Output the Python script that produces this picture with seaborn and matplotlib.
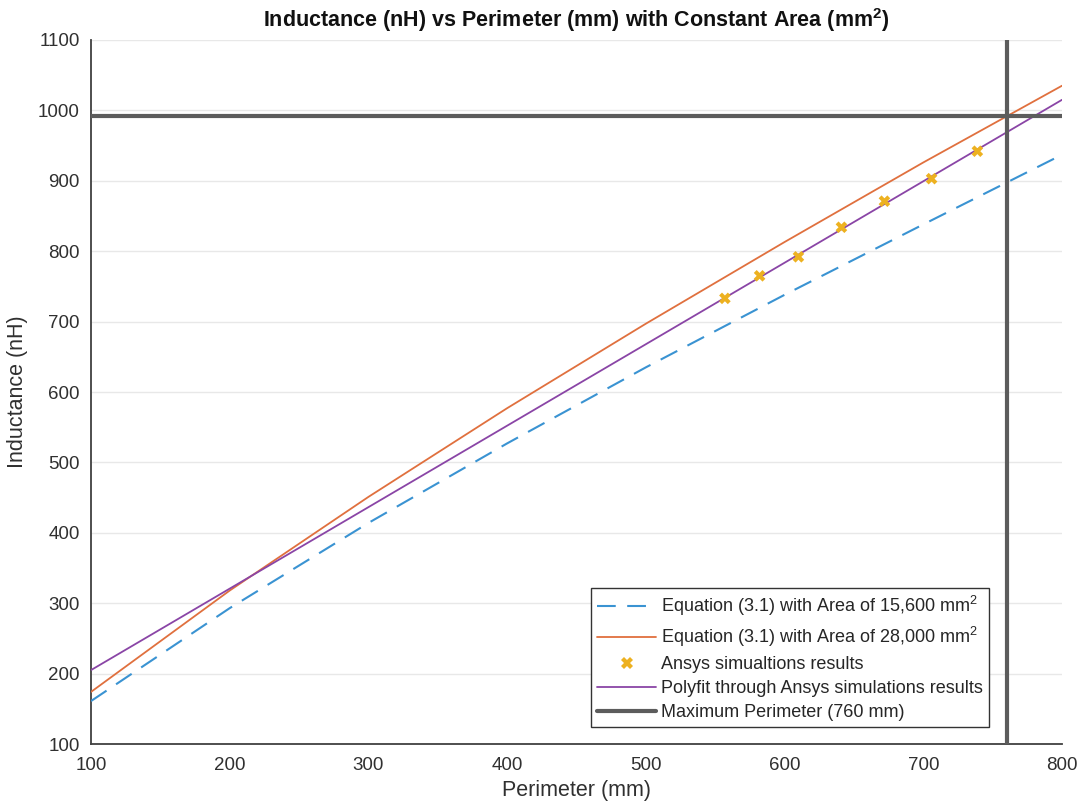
import matplotlib
matplotlib.use("Agg")
import matplotlib.pyplot as plt
import seaborn as sns
import pandas as pd
from matplotlib.lines import Line2D

# ---- data ----
perimeter_grid = [100, 200, 300, 400, 500, 600, 700, 800]
eq_area_15600 = [161, 293, 414, 527, 635, 738, 838, 937]
eq_area_28000 = [174, 318, 451, 577, 697, 813, 926, 1035]

ansys_perimeter = [557, 582, 610, 641, 672, 706, 739]
ansys_inductance = [733, 765, 792, 834, 871, 903, 942]

polyfit_perimeter = [100, 800]
polyfit_inductance = [205, 1015]

max_perimeter = 760
max_inductance = 992

labels = [
    "Equation (3.1) with Area of 15,600 mm$^2$",
    "Equation (3.1) with Area of 28,000 mm$^2$",
    "Ansys simualtions results",
    "Polyfit through Ansys simulations results",
    "Maximum Perimeter (760 mm)",
]

# ---- style ----
sns.set_theme(style="white")
plt.rcParams["font.family"] = ["Liberation Sans", "DejaVu Sans"]
plt.rcParams["mathtext.fontset"] = "custom"
plt.rcParams["mathtext.rm"] = "Liberation Sans"
plt.rcParams["mathtext.it"] = "Liberation Sans:italic"
plt.rcParams["mathtext.bf"] = "Liberation Sans:bold"

c_blue = "#3a93d2"
c_orange = "#e0703e"
c_yellow = "#EDB120"
c_purple = "#8a45a6"
c_gray = "#5c5c5c"
c_axis = "#404040"
dash = (0, (9, 5.5))

fig = plt.figure(figsize=(10.83, 8.09), dpi=100)
ax = fig.add_axes([0.084, 0.0803, 0.8966, 0.8703])

df_eq = pd.DataFrame({"P": perimeter_grid, "A": eq_area_15600, "B": eq_area_28000})
df_ans = pd.DataFrame({"P": ansys_perimeter, "L": ansys_inductance})
df_fit = pd.DataFrame({"P": polyfit_perimeter, "L": polyfit_inductance})

sns.lineplot(data=df_eq, x="P", y="A", ax=ax, color=c_blue, lw=1.5,
             dashes=False, linestyle=dash, zorder=3)
sns.lineplot(data=df_eq, x="P", y="B", ax=ax, color=c_orange, lw=1.3, zorder=3)
sns.scatterplot(data=df_ans, x="P", y="L", ax=ax, color=c_yellow, marker="X",
                s=70, edgecolor="none", linewidth=0, zorder=5)
sns.lineplot(data=df_fit, x="P", y="L", ax=ax, color=c_purple, lw=1.3, zorder=4)
ax.axvline(max_perimeter, color=c_gray, lw=3, zorder=6)
ax.axhline(max_inductance, color=c_gray, lw=3, zorder=6)

ax.set_xlim(100, 800)
ax.set_ylim(100, 1100)
ax.set_xticks(range(100, 801, 100))
ax.set_yticks(range(100, 1101, 100))

ax.yaxis.grid(True, color="#e8e8e8", lw=1.0, zorder=0)
ax.xaxis.grid(False)
ax.set_axisbelow(True)

for s in ["top", "right"]:
    ax.spines[s].set_visible(False)
for s in ["left", "bottom"]:
    ax.spines[s].set_color(c_axis)
    ax.spines[s].set_linewidth(1.3)

ax.tick_params(axis="both", direction="in", length=6, width=1.2, colors=c_axis,
               labelsize=13.5, labelcolor="#303030", pad=8)
ax.tick_params(axis="x", pad=9)

ax.set_xlabel("Perimeter (mm)", fontsize=15.5, color="#303030", labelpad=5)
ax.set_ylabel("Inductance (nH)", fontsize=15.5, color="#303030", labelpad=7)
ax.set_title(r"Inductance (nH) vs Perimeter (mm) with Constant Area (mm$^{\mathbf{2}}$)",
             fontsize=15.5, fontweight="bold", color="#111111", pad=9)

handles = [
    Line2D([], [], color=c_blue, lw=1.5, linestyle=dash),
    Line2D([], [], color=c_orange, lw=1.3),
    Line2D([], [], color=c_yellow, marker="X", linestyle="none", markersize=8,
           markeredgewidth=0),
    Line2D([], [], color=c_purple, lw=1.3),
    Line2D([], [], color=c_gray, lw=3),
]
leg = ax.legend(handles, labels, loc="lower right", bbox_to_anchor=(0.925, 0.024),
                fontsize=13, frameon=True, fancybox=False, handlelength=3.3,
                handletextpad=0.25, borderpad=0.35, labelspacing=0.38,
                borderaxespad=0.0)
leg.get_frame().set_edgecolor("#333333")
leg.get_frame().set_linewidth(1.0)
leg.get_frame().set_facecolor("white")
leg.get_frame().set_alpha(1)
leg.set_zorder(10)

fig.savefig("out.png", dpi=100)
